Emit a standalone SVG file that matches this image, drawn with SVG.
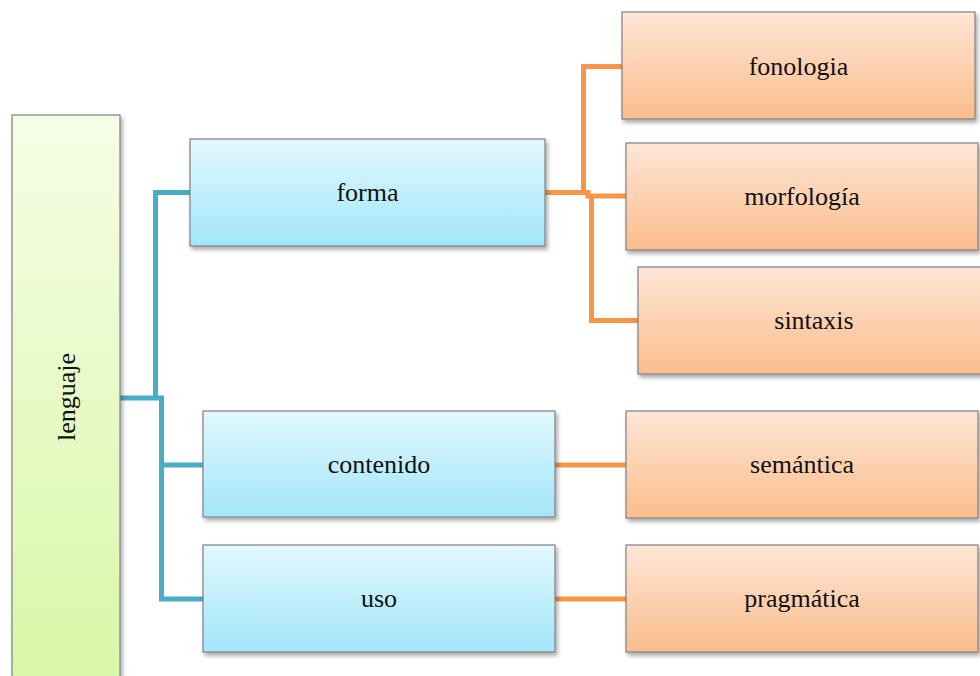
<svg xmlns="http://www.w3.org/2000/svg" width="980" height="676" viewBox="0 0 980 676">
<defs>
<linearGradient id="gBlue" x1="0" y1="0" x2="0" y2="1"><stop offset="0" stop-color="#E2F8FE"/><stop offset="1" stop-color="#A2E6FA"/></linearGradient>
<linearGradient id="gOrange" x1="0" y1="0" x2="0" y2="1"><stop offset="0" stop-color="#FEE6D6"/><stop offset="1" stop-color="#FBBD8C"/></linearGradient>
<linearGradient id="gGreen" x1="0" y1="0" x2="0" y2="1"><stop offset="0" stop-color="#F6FDE6"/><stop offset="1" stop-color="#D8F7A6"/></linearGradient>
<filter id="sh" x="-10%" y="-10%" width="130%" height="130%"><feDropShadow dx="2" dy="3" stdDeviation="2" flood-color="#000" flood-opacity="0.35"/></filter>
</defs>
<style>
.box{stroke:#808080;stroke-width:1.2;filter:url(#sh)}
.blue{fill:url(#gBlue)}
.orange{fill:url(#gOrange)}
.green{fill:url(#gGreen)}
text{font-family:'Liberation Serif','Times New Roman','DejaVu Serif',serif;font-size:26px;fill:#111;text-anchor:middle}
.cb{fill:none;stroke:#4BACC6;stroke-width:5}
.co{fill:none;stroke:#F79646;stroke-width:5}
</style>
<rect width="980" height="676" fill="#fff"/>
<g id="connectors">
<path class="cb" d="M120,398 H161.5 V599 H203"/>
<path class="cb" d="M155.5,398 V192.5 H190"/>
<path class="cb" d="M161.5,465 H203"/>
<path class="co" d="M545,192.5 H583.5 V66.5 H622"/>
<path class="co" d="M545,192.5 H588 V196 H626"/>
<path class="co" d="M591.5,194 V320.5 H638"/>
<path class="co" d="M555,465 H626"/>
<path class="co" d="M555,599 H626"/>
</g>
<g id="lenguaje"><rect class="box green" x="12" y="115" width="108" height="575"/><text transform="translate(75,397) rotate(-90)">lenguaje</text></g>
<g id="forma"><rect class="box blue" x="190" y="139" width="355" height="107"/><text x="367.5" y="201">forma</text></g>
<g id="contenido"><rect class="box blue" x="203" y="411" width="352" height="106"/><text x="379" y="473">contenido</text></g>
<g id="uso"><rect class="box blue" x="203" y="545" width="352" height="107"/><text x="379" y="607">uso</text></g>
<g id="fonologia"><rect class="box orange" x="622" y="12" width="353" height="107"/><text x="798.5" y="75">fonologia</text></g>
<g id="morfologia"><rect class="box orange" x="626" y="143" width="352" height="107"/><text x="802" y="205">morfología</text></g>
<g id="sintaxis"><rect class="box orange" x="638" y="267" width="352" height="107"/><text x="814" y="329">sintaxis</text></g>
<g id="semantica"><rect class="box orange" x="626" y="411" width="352" height="107"/><text x="802" y="473">semántica</text></g>
<g id="pragmatica"><rect class="box orange" x="626" y="545" width="352" height="107"/><text x="802" y="607">pragmática</text></g>
</svg>
